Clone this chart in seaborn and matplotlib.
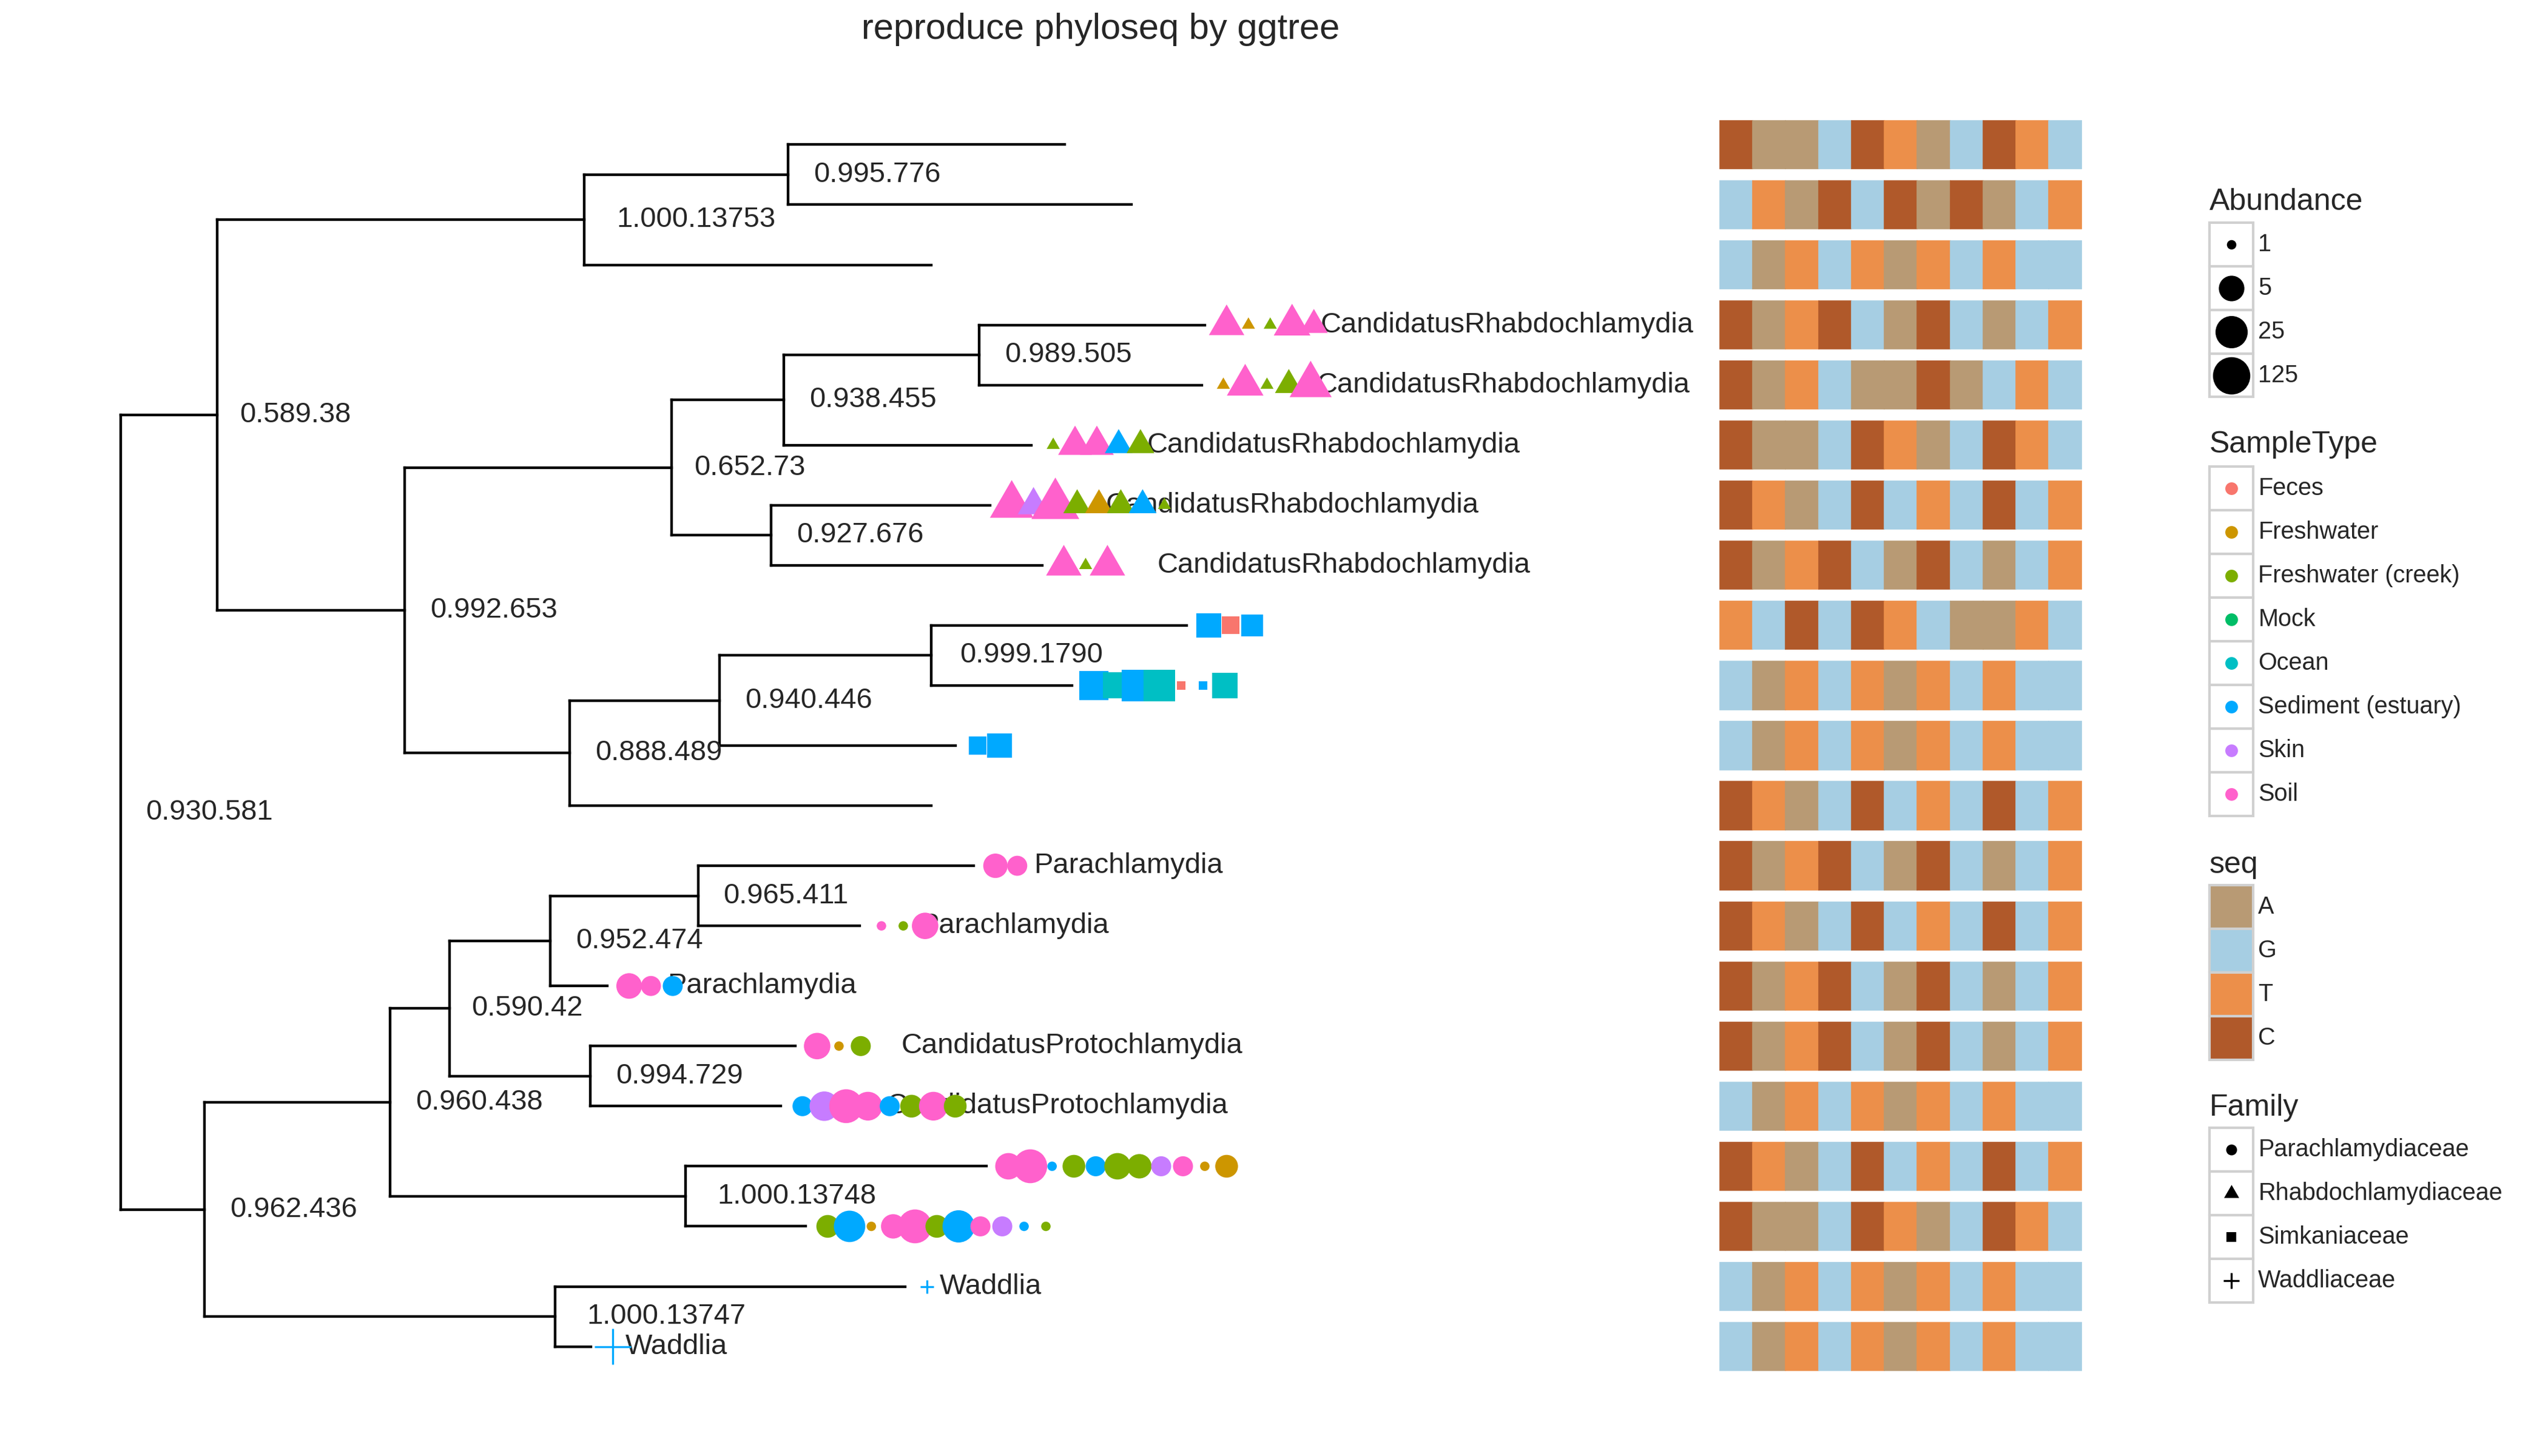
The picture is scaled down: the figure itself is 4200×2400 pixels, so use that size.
import numpy as np
import pandas as pd
import matplotlib
matplotlib.use("Agg")
import matplotlib.pyplot as plt
from matplotlib.path import Path
from matplotlib.markers import MarkerStyle
from matplotlib.patches import Rectangle
from matplotlib.collections import LineCollection
from matplotlib.transforms import offset_copy
import seaborn as sns

# ---------------- data ----------------
# tree edges, ape-style numbering: tips 1..21, root 22, internal 23..41
edge_parent = [22, 23, 24, 25, 25, 24, 23, 26, 27, 28, 29, 29, 28, 27, 30, 30,
               26, 31, 32, 33, 33, 32, 31, 22, 34, 35, 36, 37, 38, 38, 37, 36,
               39, 39, 35, 40, 40, 34, 41, 41]
edge_child = [23, 24, 25, 1, 2, 3, 26, 27, 28, 29, 4, 5, 6, 30, 7, 8,
              31, 32, 33, 9, 10, 11, 12, 34, 35, 36, 37, 38, 13, 14, 15, 39,
              16, 17, 40, 18, 19, 41, 20, 21]
edge_length = [0.0595, 0.2255, 0.125, 0.170, 0.211, 0.213, 0.115, 0.164, 0.069, 0.120,
               0.1385, 0.1365, 0.152, 0.061, 0.1345, 0.1665, 0.1015, 0.092, 0.130, 0.157,
               0.0865, 0.145, 0.222, 0.0515, 0.114, 0.0365, 0.062, 0.091, 0.169, 0.099,
               0.035, 0.0865, 0.126, 0.117, 0.1815, 0.185, 0.074, 0.2155, 0.215, 0.022]

# internal node labels for nodes 22..41
node_support = ["0.930.581", "0.589.38", "1.000.13753", "0.995.776", "0.992.653",
                "0.652.73", "0.938.455", "0.989.505", "0.927.676", "0.888.489",
                "0.940.446", "0.999.1790", "0.962.436", "0.960.438", "0.590.42",
                "0.952.474", "0.965.411", "0.994.729", "1.000.13748", "1.000.13747"]

tip_genus = ["", "", "",
             "CandidatusRhabdochlamydia", "CandidatusRhabdochlamydia",
             "CandidatusRhabdochlamydia", "CandidatusRhabdochlamydia",
             "CandidatusRhabdochlamydia",
             "", "", "", "",
             "Parachlamydia", "Parachlamydia", "Parachlamydia",
             "CandidatusProtochlamydia", "CandidatusProtochlamydia",
             "", "", "Waddlia", "Waddlia"]

tip_family = [None, None, None,
              "Rhabdochlamydiaceae", "Rhabdochlamydiaceae", "Rhabdochlamydiaceae",
              "Rhabdochlamydiaceae", "Rhabdochlamydiaceae",
              "Simkaniaceae", "Simkaniaceae", "Simkaniaceae", None,
              "Parachlamydiaceae", "Parachlamydiaceae", "Parachlamydiaceae",
              "Parachlamydiaceae", "Parachlamydiaceae", "Parachlamydiaceae",
              "Parachlamydiaceae", "Waddliaceae", "Waddliaceae"]

# one row of 11 bases per tip
seq_rows = ["CAAGCTAGCTG", "GTACGCACAGT", "GATGTATGTGG", "CATCGACGAGT",
            "CATGAACAGTG", "CAAGCTAGCTG", "CTAGCGTGCGT", "CATCGACGAGT",
            "TGCGCTGAATG", "GATGTATGTGG", "GATGTATGTGG", "CTAGCGTGCGT",
            "CATCGACGAGT", "CTAGCGTGCGT", "CATCGACGAGT", "CATCGACGAGT",
            "GATGTATGTGG", "CTAGCGTGCGT", "CAAGCTAGCTG", "GATGTATGTGG",
            "GATGTATGTGG"]
seq_levels = ["A", "G", "T", "C"]
seq_colors = ["#B89A74", "#A6CEE3", "#EC8F4A", "#B0592A"]

sample_types = ["Feces", "Freshwater", "Freshwater (creek)", "Mock", "Ocean",
                "Sediment (estuary)", "Skin", "Soil"]
sample_colors = ["#F8766D", "#CD9600", "#7CAE00", "#00BE67", "#00BFC4",
                 "#00A9FF", "#C77CFF", "#FF61CC"]
type_code = {"Fe": "Feces", "Fw": "Freshwater", "Fc": "Freshwater (creek)",
             "Mo": "Mock", "Oc": "Ocean", "Se": "Sediment (estuary)",
             "Sk": "Skin", "So": "Soil"}

families = ["Parachlamydiaceae", "Rhabdochlamydiaceae", "Simkaniaceae", "Waddliaceae"]
abundance_breaks = [1, 5, 25, 125]

# sample points per tip, in drawing order
pt_tip = [4, 4, 4, 4, 4,
          5, 5, 5, 5, 5,
          6, 6, 6, 6, 6,
          7, 7, 7, 7, 7, 7, 7, 7,
          8, 8, 8,
          9, 9, 9,
          10, 10, 10, 10, 10, 10, 10,
          11, 11,
          13, 13,
          14, 14, 14,
          15, 15, 15,
          16, 16, 16,
          17, 17, 17, 17, 17, 17, 17, 17,
          18, 18, 18, 18, 18, 18, 18, 18, 18, 18, 18,
          19, 19, 19, 19, 19, 19, 19, 19, 19, 19, 19,
          20,
          21]
pt_type = ["So", "Fw", "Fc", "So", "So",
           "Fw", "So", "Fc", "Fc", "So",
           "Fc", "So", "So", "Se", "Fc",
           "So", "Sk", "So", "Fc", "Fw", "Fc", "Se", "Fc",
           "So", "Fc", "So",
           "Se", "Fe", "Se",
           "Se", "Oc", "Se", "Oc", "Fe", "Se", "Oc",
           "Se", "Se",
           "So", "So",
           "So", "Fc", "So",
           "So", "So", "Se",
           "So", "Fw", "Fc",
           "Se", "Sk", "So", "So", "Se", "Fc", "So", "Fc",
           "So", "So", "Se", "Fc", "Se", "Fc", "Fc", "Sk", "So", "Fw", "Fw",
           "Fc", "Se", "Fw", "So", "So", "Fc", "Se", "So", "Sk", "Se", "Fc",
           "Se",
           "Se"]
pt_abund = [5, 1, 1, 6, 2,
            1, 6, 1, 2, 15,
            1, 4, 4, 2, 2,
            20, 3, 50, 2, 2, 2, 2, 1,
            5, 1, 5,
            8, 2, 4,
            30, 12, 80, 80, 1, 1, 10,
            2, 8,
            4, 2,
            1, 1, 6,
            5, 2, 2,
            6, 1, 2,
            2, 12, 40, 10, 2, 3, 10, 3,
            6, 40, 1, 3, 2, 6, 4, 2, 2, 1, 3,
            3, 20, 1, 4, 40, 3, 25, 2, 2, 1, 1,
            1,
            5]

# ---------------- layout helpers ----------------
W, H = 1565.0, 894.0          # reference frame (px)
PT = 14 * 72 / W              # points per frame px
N_TIPS = 21
POINT_STEP = 0.0134           # x spacing of sample points
HEAT_LEFT, HEAT_W = 0.9824, 0.0202

sns.set_theme(style="white")
plt.rcParams["font.family"] = ["Liberation Sans", "DejaVu Sans"]

children = {}
for p, c, l in zip(edge_parent, edge_child, edge_length):
    children.setdefault(p, []).append((c, l))

node_x, node_y = {}, {}


def layout(node, depth):
    node_x[node] = depth
    if node not in children:
        node_y[node] = N_TIPS + 1 - node
        return node_y[node]
    ys = [layout(c, depth + l) for c, l in children[node]]
    node_y[node] = float(np.mean(ys))
    return node_y[node]


layout(N_TIPS + 1, 0.0)


def diam_pt(ab):
    # log5 trans + area-like scaling, roughly what ggplot gave
    return PT * (5.8 + 9.9 * np.sqrt(np.log(ab) / np.log(5)))


tri = Path([(0, 1), (-0.866, -0.5), (0.866, -0.5), (0, 1)],
           [Path.MOVETO, Path.LINETO, Path.LINETO, Path.CLOSEPOLY])
family_marker = {"Parachlamydiaceae": ("o", 1.0),
                 "Rhabdochlamydiaceae": (MarkerStyle(tri), 1.6),
                 "Simkaniaceae": ("s", 0.886),
                 "Waddliaceae": ("+", 1.414)}

fig = plt.figure(figsize=(14, 8), dpi=300)
ax = fig.add_axes([0, 0, 1, 1])
ax.set_xlim(-0.074, (W - 74) / 1000)
ax.set_ylim(21 + 88.8 / 36.9 - H / 36.9, 21 + 88.8 / 36.9)
ax.set_axis_off()

# tree branches
segs = []
for p, c in zip(edge_parent, edge_child):
    segs.append([(node_x[p], node_y[c]), (node_x[c], node_y[c])])
for p, kids in children.items():
    ys = [node_y[c] for c, _ in kids]
    segs.append([(node_x[p], min(ys)), (node_x[p], max(ys))])
ax.add_collection(LineCollection(segs, colors="black", linewidths=1.05,
                                 capstyle="projecting", zorder=2))

renderer = fig.canvas.get_renderer()

# internal node labels (hjust = -0.2)
for node, lab in zip(range(N_TIPS + 1, 2 * N_TIPS), node_support):
    t = ax.text(node_x[node], node_y[node], lab, fontsize=11.3,
                ha="left", va="center", zorder=3)
    w = t.get_window_extent(renderer).width
    t.set_transform(offset_copy(ax.transData, fig=fig, x=0.2 * w, y=0, units="dots"))

# tip labels (hjust = -0.3)
for tip in range(1, N_TIPS + 1):
    lab = tip_genus[tip - 1]
    if not lab:
        continue
    t = ax.text(node_x[tip], node_y[tip], lab, fontsize=11.3,
                ha="left", va="center", zorder=3)
    w = t.get_window_extent(renderer).width
    t.set_transform(offset_copy(ax.transData, fig=fig, x=0.3 * w + 6, y=0, units="dots"))

# sample points
rows = []
count = {}
for tip, code, ab in zip(pt_tip, pt_type, pt_abund):
    count[tip] = count.get(tip, 0) + 1
    fam = tip_family[tip - 1]
    d = family_marker[fam][1] * diam_pt(ab)
    rows.append(dict(x=node_x[tip] + count[tip] * POINT_STEP, y=node_y[tip],
                     SampleType=type_code[code], Family=fam, area=d ** 2))
pts = pd.DataFrame(rows)
palette = dict(zip(sample_types, sample_colors))

for fam in families:
    sub = pts[pts["Family"] == fam]
    if sub.empty:
        continue
    mk = family_marker[fam][0]
    lo, hi = sub["area"].min(), sub["area"].max()
    extra = {"linewidth": 0.8} if fam == "Waddliaceae" else {"linewidth": 0, "edgecolor": "none"}
    sns.scatterplot(data=sub, x="x", y="y", hue="SampleType", palette=palette,
                    hue_order=sample_types, size="area", sizes=(lo, hi),
                    size_norm=(lo, hi + 1e-9), marker=mk, legend=False, ax=ax,
                    zorder=4, **extra)

# sequence heatmap
seq_col = dict(zip(seq_levels, seq_colors))
tip_ys = [node_y[t] for t in range(1, N_TIPS + 1)]
for j in range(len(seq_rows[0])):
    cols = [seq_col[row[j]] for row in seq_rows]
    ax.barh(tip_ys, HEAT_W, left=HEAT_LEFT + j * HEAT_W, height=0.8,
            color=cols, edgecolor=cols, linewidth=0.4, zorder=1)

# title
fig.text(676 / W, 1 - 18 / H, "reproduce phyloseq by ggtree", ha="center",
         va="center", fontsize=14.3)

# ---------------- legends (drawn in frame px) ----------------
lg = fig.add_axes([0, 0, 1, 1])
lg.set_xlim(0, W)
lg.set_ylim(H, 0)
lg.set_axis_off()
KX, KS, LX = 1357, 26.8, 1387
KC = KX + KS / 2


def key_box(cy, face="white"):
    lg.add_patch(Rectangle((KX, cy - KS / 2), KS, KS, facecolor=face,
                           edgecolor="#D0D0D0", linewidth=1.0))


def title(y, s):
    lg.text(KX, y, s, fontsize=12, ha="left", va="center")


def label(y, s):
    lg.text(LX, y, s, fontsize=9.5, ha="left", va="center")


title(124, "Abundance")
for i, b in enumerate(abundance_breaks):
    cy = 150 + i * KS
    key_box(cy)
    lg.scatter([KC], [cy], s=diam_pt(b) ** 2, color="black", linewidth=0)
    label(cy, str(b))

title(273, "SampleType")
for i, (name, col) in enumerate(zip(sample_types, sample_colors)):
    cy = 300 + i * KS
    key_box(cy)
    lg.scatter([KC], [cy], s=5.0 ** 2, color=col, linewidth=0)
    label(cy, name)

title(531, "seq")
for i, (lev, col) in enumerate(zip(seq_levels, seq_colors)):
    cy = 557 + i * KS
    key_box(cy, face=col)
    label(cy, lev)

title(680, "Family")
base = 4.3
for i, fam in enumerate(families):
    cy = 706 + i * KS
    key_box(cy)
    mk, f = family_marker[fam]
    if fam == "Waddliaceae":
        lg.scatter([KC], [cy], s=(f * base) ** 2, color="black", marker=mk, linewidth=0.8)
    else:
        lg.scatter([KC], [cy], s=(f * base) ** 2, color="black", marker=mk, linewidth=0)
    label(cy, fam)

fig.savefig("out.png", dpi=300)
